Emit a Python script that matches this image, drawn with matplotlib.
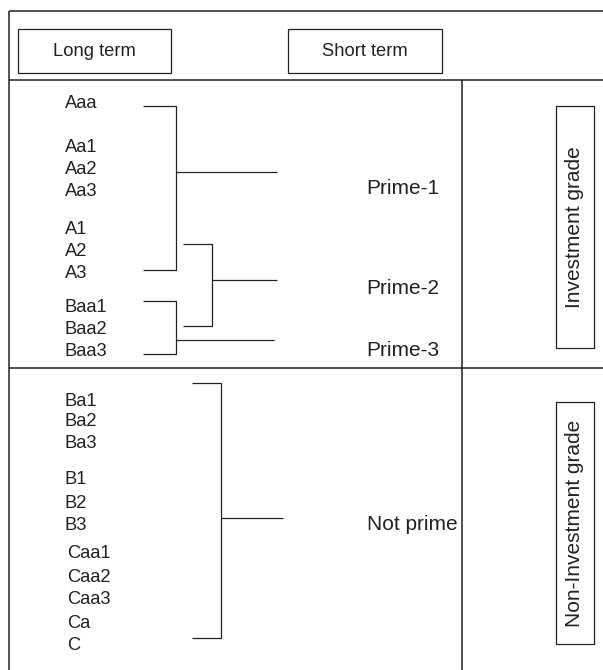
import matplotlib
matplotlib.use("Agg")
import matplotlib.pyplot as plt
from matplotlib.patches import Rectangle

plt.rcParams['font.family'] = ['Liberation Sans', 'DejaVu Sans']

# ---------------- data ----------------
header_labels = ["Long term", "Short term"]
investment_ratings = ["Aaa", "Aa1", "Aa2", "Aa3", "A1", "A2", "A3", "Baa1", "Baa2", "Baa3"]
noninvestment_ratings = ["Ba1", "Ba2", "Ba3", "B1", "B2", "B3", "Caa1", "Caa2", "Caa3", "Ca", "C"]
short_term_labels = ["Prime-1", "Prime-2", "Prime-3", "Not prime"]
# each short-term grade maps to a range of long-term ratings (first, last)
short_term_ranges = [("Aaa", "A3"), ("A2", "Baa2"), ("Baa1", "Baa3"), ("Ba1", "C")]
grade_labels = ["Investment grade", "Non-Investment grade"]

# ---------------- layout (pixel space) ----------------
W, H = 603, 670
row_y = {
    "Aaa": 102, "Aa1": 146, "Aa2": 168, "Aa3": 190, "A1": 227, "A2": 249, "A3": 271,
    "Baa1": 305, "Baa2": 328, "Baa3": 350,
    "Ba1": 399, "Ba2": 420, "Ba3": 441, "B1": 478, "B2": 501, "B3": 523,
    "Caa1": 551, "Caa2": 575, "Caa3": 598, "Ca": 621, "C": 644,
}
row_x = {k: 65 for k in row_y}
for k in ["Caa1", "Caa2", "Caa3", "Ca", "C"]:
    row_x[k] = 67
# bracket geometry: (x_start, x_vertical, y_top, y_bottom, y_out, x_out_end)
brackets = [
    (143, 176, 106, 270, 172, 277),
    (183, 212, 244, 326, 280, 277),
    (143, 176, 301, 354, 340, 274),
    (192, 221, 383, 638, 518, 283),
]
short_label_pos = [(366, 187), (366, 287), (366, 349), (367, 522)]

fs = 13.2
fs_big = 15.0
lc = "#222222"
lw = 0.9
dy = 2  # visual centering offset for text

fig = plt.figure(figsize=(W / 100, H / 100), dpi=100)
ax = fig.add_axes([0, 0, 1, 1])
ax.set_xlim(0, W)
ax.set_ylim(H, 0)
ax.axis("off")

def line(xs, ys, **kw):
    ax.plot(xs, ys, color=lc, lw=kw.get("lw", lw), solid_capstyle="butt",
            solid_joinstyle="miter")

# outer frame (cropped on right/bottom)
line([9, 9], [11, H + 2], lw=1.1)
line([9, W + 2], [11, 11], lw=1.1)
line([9, W + 2], [80, 80], lw=1.1)
line([9, W + 2], [368, 368], lw=1.1)
line([462, 462], [80, H + 2], lw=1.1)

# header boxes
for (x0, x1), lab in zip([(18, 171), (288, 442)], header_labels):
    ax.add_patch(Rectangle((x0, 29), x1 - x0, 44, fill=False, ec=lc, lw=lw))
    ax.text((x0 + x1) / 2, 51 + 1, lab, ha="center", va="center", fontsize=fs, color=lc)

# long-term rating labels
for r in investment_ratings + noninvestment_ratings:
    ax.text(row_x[r], row_y[r] + dy, r, ha="left", va="center", fontsize=fs, color=lc)

# brackets
for (xs, xv, yt, yb, yo, xe) in brackets:
    line([xs, xv, xv, xs], [yt, yt, yb, yb])
    line([xv, xe], [yo, yo])

# short-term labels
for lab, (x, y) in zip(short_term_labels, short_label_pos):
    ax.text(x, y + dy, lab, ha="left", va="center", fontsize=fs_big, color=lc)

# grade boxes
for (y0, y1), lab in zip([(106, 348), (402, 644)], grade_labels):
    ax.add_patch(Rectangle((556, y0), 38, y1 - y0, fill=False, ec=lc, lw=lw))
    ax.text(575, (y0 + y1) / 2, lab, ha="center", va="center", rotation=90,
            fontsize=fs_big, color=lc)

fig.savefig("out.png", dpi=100, facecolor="white")
